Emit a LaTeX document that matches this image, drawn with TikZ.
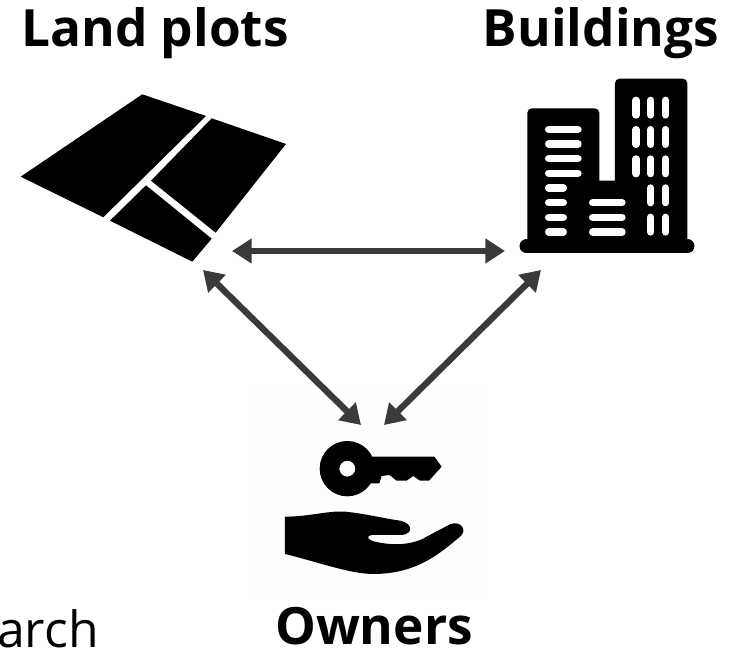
\documentclass[tikz,border=0pt]{standalone}
\usepackage{fontspec}
\setmainfont{Open Sans}
\usetikzlibrary{arrows.meta}
\definecolor{arrowgray}{HTML}{3A3A3A}
\definecolor{faintbg}{HTML}{FDFDFD}
\tikzset{
  title/.style={anchor=base,inner sep=0pt,font=\fontsize{14.6}{16}\selectfont\bfseries},
  link/.style={arrowgray,line width=1.8pt,{Triangle[length=5.6pt,width=6.8pt]}-{Triangle[length=5.6pt,width=6.8pt]}},
  ink/.style={fill=black,draw=none},
  win/.style={white,line width=2.1pt,line cap=round},
}
\begin{document}
\begin{tikzpicture}[x=0.01cm,y=-0.01cm]
\useasboundingbox (0,0) rectangle (741,649);
\fill[faintbg] (255,390) rectangle (482,600);
% land plots
\fill[ink] (142.3,94.3)--(206,116)--(103.3,217.3)--(20.7,176.7)--cycle;
\fill[ink] (211.7,118.3)--(286,144)--(215.7,232.7)--(151,180.7)--cycle;
\fill[ink] (146,185.3)--(211.7,238.7)--(192.3,261.7)--(110,220.7)--cycle;
% buildings
\begin{scope}[shift={(500,60)},scale=1/3]
\fill[ink] (82,560)[rounded corners=1.3pt]--(82,145)--(298,145)[sharp corners]--(298,362)--(345,362)[rounded corners=1.3pt]--(345,56)--(562,56)[sharp corners]--(562,560)--cycle;
\draw[black,line width=4.07pt,line cap=round] (80,558.5)--(562,558.5);
\foreach \yy in {208,252,296,340} \draw[win] (146,\yy)--(234,\yy);
\foreach \yy in {384,428,472,516} \draw[win] (146,\yy)--(190,\yy);
\foreach \yy in {428,472,516} \draw[win] (278,\yy)--(366,\yy);
\foreach \xx in {408,452,497} {
  \draw[win] (\xx,121)--(\xx,165);
  \draw[win] (\xx,209)--(\xx,253);
  \draw[win] (\xx,297)--(\xx,341);
}
\foreach \xx in {452,497} {
  \draw[win] (\xx,384)--(\xx,428);
  \draw[win] (\xx,472)--(\xx,516);
}
\end{scope}
% key and hand
\begin{scope}[shift={(250,390)},scale=1/3]
\fill[ink,even odd rule] (292,236) circle [radius=83] (292,236) circle [radius=24];
\fill[ink] (350,200)--(553,200)--(575,230)--(537,272)--(510,272)--(490,258)--(470,272)--(440,272)--(418,255)--(395,258)--(388,280)--(350,280)--cycle;
\fill[ink] (105,380) .. controls (180,380) and (230,362) .. (285,365)
  .. controls (340,370) and (400,385) .. (450,392)
  .. controls (490,400) and (490,432) .. (455,435)
  -- (365,435) .. controls (345,440) and (355,450) .. (375,455)
  .. controls (430,468) and (490,465) .. (530,440)
  -- (600,403) .. controls (630,390) and (655,420) .. (630,440)
  .. controls (570,490) and (500,552) .. (370,552)
  .. controls (300,552) and (200,515) .. (105,492) -- cycle;
\end{scope}
% titles
\node[title] (landT) at (155,47) {Land plots};
\node[title] (buildT) at (601,47) {Buildings};
\node[title] (ownT) at (374,645) {Owners};
\node[anchor=base east,inner sep=0pt,font=\fontsize{14.2}{16}\selectfont] (cut) at (99.5,648) {arch};
% connectors
\coordinate (lr) at (232,251);
\coordinate (rl) at (505,251);
\coordinate (ld) at (203,270);
\coordinate (ol) at (361,425);
\coordinate (rd) at (541,270);
\coordinate (or) at (384,425);
\draw[link] (lr)--(rl);
\draw[link] (ld)--(ol);
\draw[link] (rd)--(or);
\end{tikzpicture}
\end{document}
